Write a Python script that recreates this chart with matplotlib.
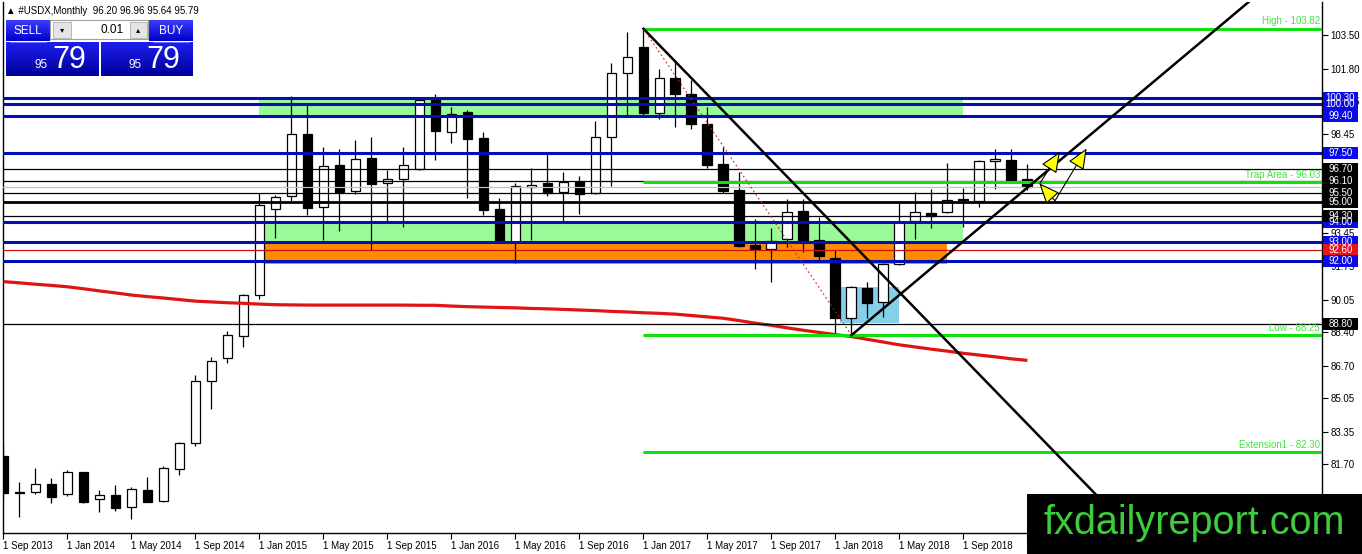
import numpy as np
import matplotlib
matplotlib.use("Agg")
import matplotlib.pyplot as plt
import matplotlib.colors as mcolors
from matplotlib.patches import Rectangle
from matplotlib.transforms import blended_transform_factory

plt.rcParams['font.family'] = ['Liberation Sans', 'DejaVu Sans']

# ---------------- data ----------------
date_labels = ["1 Sep 2013", "1 Jan 2014", "1 May 2014", "1 Sep 2014", "1 Jan 2015",
               "1 May 2015", "1 Sep 2015", "1 Jan 2016", "1 May 2016", "1 Sep 2016",
               "1 Jan 2017", "1 May 2017", "1 Sep 2017", "1 Jan 2018", "1 May 2018",
               "1 Sep 2018", "1 Jan 2019"]

opens = [82.10, 80.22, 80.26, 80.67, 80.16, 81.29, 79.94, 80.11, 79.53, 80.37,
         79.81, 81.43, 82.75, 85.90, 87.07, 88.19, 90.27, 94.64, 95.34, 98.47,
         94.75, 96.88, 95.56, 97.23, 95.96, 96.20, 96.71, 100.25, 98.55, 99.57,
         98.25, 94.64, 93.00, 95.78, 96.00, 95.54, 96.03, 95.49, 98.30, 101.55,
         102.88, 99.55, 101.30, 100.51, 98.98, 96.93, 95.63, 92.83, 92.63, 93.16,
         94.55, 93.08, 92.15, 89.10, 90.63, 89.92, 91.87, 94.05, 94.47, 94.52,
         95.15, 95.08, 97.08, 97.15, 96.20]
highs = [82.66, 80.79, 81.50, 80.97, 81.38, 81.30, 80.38, 80.62, 80.55, 81.03,
         81.58, 82.80, 86.21, 87.12, 88.46, 90.34, 95.46, 95.37, 100.40, 99.94,
         97.79, 97.69, 98.15, 98.30, 96.66, 97.79, 100.23, 100.50, 99.83, 99.67,
         98.55, 95.20, 95.97, 96.73, 97.49, 96.52, 96.35, 99.13, 102.06, 103.64,
         103.82, 101.76, 102.23, 101.22, 99.86, 97.83, 96.52, 94.13, 93.68, 95.15,
         95.15, 94.24, 92.57, 90.75, 90.94, 91.93, 94.98, 95.51, 95.66, 97.01,
         95.71, 97.15, 97.69, 97.69, 96.96]
lows = [79.97, 79.00, 80.20, 79.70, 80.10, 79.70, 79.28, 79.33, 78.89, 79.77,
        79.75, 81.16, 82.63, 84.48, 86.85, 87.63, 90.10, 93.20, 95.08, 94.37,
        93.08, 93.54, 95.42, 92.57, 94.03, 93.76, 96.64, 97.15, 98.03, 95.23,
        94.34, 93.00, 91.90, 93.08, 95.32, 94.02, 94.41, 95.40, 95.84, 99.40,
        99.40, 99.22, 98.84, 98.71, 96.76, 95.46, 92.74, 91.60, 90.97, 92.74,
        92.49, 92.07, 88.38, 88.25, 89.10, 89.19, 91.80, 93.12, 93.71, 94.44,
        93.73, 94.78, 95.66, 96.05, 95.64]
closes = [80.23, 80.25, 80.67, 80.04, 81.28, 79.79, 80.11, 79.48, 80.42, 79.79,
          81.48, 82.75, 85.92, 86.94, 88.24, 90.27, 94.85, 95.25, 98.46, 94.73,
          96.86, 95.52, 97.18, 95.94, 96.20, 96.91, 100.18, 98.64, 99.50, 98.23,
          94.62, 93.08, 95.84, 95.90, 95.49, 96.02, 95.42, 98.30, 101.55, 102.37,
          99.55, 101.30, 100.52, 98.99, 96.91, 95.59, 92.79, 92.65, 93.03, 94.50,
          93.08, 92.28, 89.10, 90.68, 89.87, 91.87, 94.02, 94.53, 94.33, 95.12,
          95.13, 97.08, 97.18, 96.13, 95.79]
ma_values = [90.97, 90.91, 90.84, 90.78, 90.71, 90.61, 90.50, 90.40, 90.29, 90.21,
             90.14, 90.06, 89.98, 89.94, 89.90, 89.87, 89.83, 89.80, 89.79, 89.78,
             89.78, 89.78, 89.78, 89.78, 89.78, 89.78, 89.77, 89.77, 89.73, 89.70,
             89.68, 89.66, 89.64, 89.61, 89.59, 89.56, 89.53, 89.50, 89.46, 89.43,
             89.39, 89.36, 89.32, 89.25, 89.18, 89.11, 88.99, 88.86, 88.75, 88.62,
             88.50, 88.39, 88.28, 88.18, 88.04, 87.90, 87.76, 87.65, 87.54, 87.44,
             87.33, 87.24, 87.15, 87.05, 86.97]

blue_levels = [100.30, 100.00, 99.40, 97.50, 94.00, 93.00, 92.00]
black_thin_levels = [96.70, 96.10, 95.50, 94.30, 88.80]
black_thick_levels = [95.00]
red_levels = [92.60]
bid_price = 95.79

green_levels = [103.82, 96.03, 88.25, 82.30]
green_names = ["High - 103.82", "Trap Area - 96.03", "Low - 88.25", "Extension1 - 82.30"]
green_start = 40

# rectangles: (x_start, x_end, price_low, price_high)
rect_green_top = (16.0, 59.95, 99.40, 100.35)
rect_green_low = (16.3, 59.95, 93.00, 94.00)
rect_orange = (16.3, 58.95, 91.88, 93.00)
rect_blue = (52.3, 56.0, 88.85, 90.68)

# trend lines (idx, price)
trend_down = ([40, 72], [103.82, 77.04])
trend_up = ([53, 78], [88.25, 105.30])
fib_dotted = ([40, 53], [103.82, 88.25])

# arrows: (tail, head)
arrows = [((64.78, 95.97), (66.03, 97.57)),
          ((65.72, 95.08), (64.74, 95.97)),
          ((65.72, 95.08), (67.70, 97.74))]

y_ticks = [80.00, 81.70, 83.35, 85.05, 86.70, 88.40, 90.05, 91.75, 93.45, 95.10,
           96.80, 98.45, 100.15, 101.80, 103.50]

# price labels on right axis: (value, colour)
price_labels = [(100.30, '#0a0ae6'), (100.00, '#0a0ae6'), (99.40, '#0a0ae6'),
                (97.50, '#0a0ae6'), (96.70, 'black'), (96.10, 'black'),
                (95.50, 'black'), (95.00, 'black'), (94.00, '#0a0ae6'),
                (94.30, 'black'), (93.00, '#0a0ae6'), (92.60, '#e8141a'),
                (92.00, '#0a0ae6'), (88.80, 'black')]

title = "\u25b2 #USDX,Monthly  96.20 96.96 95.64 95.79"

# ---------------- figure ----------------
W, H = 1362, 554
fig = plt.figure(figsize=(W / 100, H / 100), dpi=100)
fig.patch.set_facecolor('white')
PX_L, PX_R, PX_T, PX_B = 3, 1322, 2, 533
ax = fig.add_axes([PX_L / W, 1 - PX_B / H, (PX_R - PX_L) / W, (PX_B - PX_T) / H])
ax.set_facecolor('white')
XMIN, XMAX = -0.03, 82.41
ax.set_xlim(XMIN, XMAX)
ax.set_ylim(78.20, 105.18)

# background rectangles
for (x0, x1, p0, p1), col in [(rect_green_top, '#98fb98'), (rect_green_low, '#98fb98'),
                              (rect_orange, '#ff8c00'), (rect_blue, '#87ceeb')]:
    ax.add_patch(Rectangle((x0, p0), x1 - x0, p1 - p0, facecolor=col, edgecolor='none', zorder=1))

# candles
x = np.arange(len(opens))
o = np.array(opens); c = np.array(closes)
ax.vlines(x, lows, highs, color='black', lw=0.9, zorder=3)
bottoms = np.minimum(o, c)
heights = np.maximum(np.abs(c - o), 0.05)
colors = ['white' if cc >= oo else 'black' for oo, cc in zip(o, c)]
ax.bar(x, heights, bottom=bottoms, width=0.62, color=colors, edgecolor='black', lw=0.9, zorder=4)

# moving average
ax.plot(x, ma_values, color='#e01414', lw=2.3, zorder=5, solid_capstyle='butt')

# horizontal lines
for v in blue_levels:
    ax.axhline(v, color='#0010b4', lw=2.2, zorder=6)
for v in black_thin_levels:
    ax.axhline(v, color='black', lw=0.9, zorder=6)
for v in black_thick_levels:
    ax.axhline(v, color='black', lw=2.0, zorder=6)
for v in red_levels:
    ax.axhline(v, color='#d01010', lw=0.9, zorder=6)
ax.axhline(bid_price, color='#c0c0c0', lw=0.9, zorder=5.5)

for v, name in zip(green_levels, green_names):
    ax.hlines(v, green_start, XMAX, color='#10e010', lw=2.2, zorder=6)
    ax.text(XMAX - 0.12, v + 0.12, name, ha='right', va='bottom', fontsize=7,
            color='#3ce63c', zorder=9)

# trend lines
ax.plot(*trend_down, color='black', lw=1.8, zorder=7)
ax.plot(*trend_up, color='black', lw=1.8, zorder=7)
ax.plot(*fib_dotted, color='#e01414', lw=0.8, ls=(0, (1.5, 2.5)), zorder=7)

# arrows
for tail, head in arrows:
    ax.annotate('', xy=head, xytext=tail,
                arrowprops=dict(arrowstyle='-|>,head_length=1.3,head_width=0.55',
                                mutation_scale=10, facecolor='#ffff00', edgecolor='black',
                                lw=0.8, shrinkA=0, shrinkB=0), zorder=8)

# axes styling
ax.spines['top'].set_visible(False)
for s in ['left', 'right', 'bottom']:
    ax.spines[s].set_color('black')
    ax.spines[s].set_linewidth(1.0)
ax.yaxis.tick_right()
ax.set_yticks(y_ticks)
ax.set_yticklabels([f"{v:.2f}" for v in y_ticks])
ax.tick_params(axis='y', direction='out', length=4, width=0.8, pad=2, labelsize=7,
               right=True, left=False, colors='black')
tick_idx = list(range(0, len(opens), 4))
ax.set_xticks(tick_idx)
ax.set_xticklabels(date_labels[:len(tick_idx)])
ax.tick_params(axis='x', direction='out', length=4, width=0.8, pad=1.5, labelsize=7)
for lab in ax.get_xticklabels():
    lab.set_horizontalalignment('left')

# right axis price labels
btr = blended_transform_factory(ax.transAxes, ax.transData)
bw = 35 / (PX_R - PX_L)
bh = 12 / 19.68
x0b = 1.0008
for v, col in price_labels:
    ax.add_patch(Rectangle((x0b, v - bh / 2), bw, bh, transform=btr, facecolor=col,
                           edgecolor='none', clip_on=False, zorder=10))
    ax.text(x0b + bw / 2, v, f"{v:.2f}", transform=btr, ha='center', va='center',
            fontsize=7, color='white', clip_on=False, zorder=11)

# ---------------- overlay decorations ----------------
axo = fig.add_axes([0, 0, 1, 1], zorder=10)
axo.patch.set_alpha(0)
axo.axis('off')


def grad(x0, y0, x1, y1, ctop, cbot, z=1):
    t = np.linspace(0, 1, 60)[:, None, None]
    a = np.array(mcolors.to_rgb(ctop))[None, None, :]
    b = np.array(mcolors.to_rgb(cbot))[None, None, :]
    img = a * (1 - t) + b * t
    axo.imshow(img, extent=(x0, x1, y1, y0), aspect='auto', interpolation='bilinear', zorder=z)


# trade panel
grad(6, 20, 50, 41, '#3c3cff', '#0000c8')
grad(149, 20, 193, 41, '#3c3cff', '#0000c8')
grad(6, 42, 99, 76, '#1e1ef0', '#00009a')
grad(101, 42, 193, 76, '#1e1ef0', '#00009a')
axo.add_patch(Rectangle((50, 20), 98, 19, facecolor='white', edgecolor='#a0a0a0', lw=0.8, zorder=2))
axo.add_patch(Rectangle((53, 21.5), 18, 16, facecolor='#e4e4e4', edgecolor='#b0b0b0', lw=0.6, zorder=3))
axo.add_patch(Rectangle((130, 21.5), 17, 16, facecolor='#e4e4e4', edgecolor='#b0b0b0', lw=0.6, zorder=3))
axo.text(62, 29.5, "\u25be", ha='center', va='center', fontsize=6, color='black', zorder=4,
         family=['DejaVu Sans'])
axo.text(138.5, 29.5, "\u25b4", ha='center', va='center', fontsize=6, color='black', zorder=4,
         family=['DejaVu Sans'])
axo.text(124, 30, "0.01", ha='right', va='center', fontsize=8.5, color='black', zorder=4)
axo.text(28, 30.5, "SELL", ha='center', va='center', fontsize=8.5, color='white', zorder=4)
axo.text(171, 30.5, "BUY", ha='center', va='center', fontsize=8.5, color='white', zorder=4)
axo.plot([10, 46], [41.5, 41.5], color='#8080ff', lw=0.6, zorder=4)
axo.plot([153, 189], [41.5, 41.5], color='#8080ff', lw=0.6, zorder=4)
axo.text(48, 68, "95", ha='right', va='baseline', fontsize=8.5, color='white', zorder=4)
axo.text(52, 68, "79", ha='left', va='baseline', fontsize=22, color='white', zorder=4)
axo.text(142, 68, "95", ha='right', va='baseline', fontsize=8.5, color='white', zorder=4)
axo.text(146, 68, "79", ha='left', va='baseline', fontsize=22, color='white', zorder=4)
axo.text(6, 10.5, title, ha='left', va='center', fontsize=7, color='black', zorder=4)

# watermark
axo.add_patch(Rectangle((1027, 494), 335, 60, facecolor='black', edgecolor='none', zorder=5))
axo.text(1043, 534, "fxdailyreport.com", ha='left', va='baseline', fontsize=28.5,
         color='#3ccc3c', zorder=6)

axo.set_xlim(0, W)
axo.set_ylim(H, 0)

fig.savefig("out.png", dpi=100, facecolor='white')
